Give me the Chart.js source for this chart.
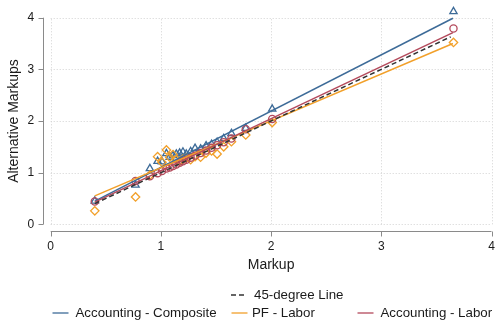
<!DOCTYPE html>
<html>
<head>
<meta charset="utf-8">
<script src="https://cdn.jsdelivr.net/npm/chart.js@4/dist/chart.umd.min.js"></script>
<style>
html,body{margin:0;padding:0;background:#fff;}
#wrap{position:relative;width:497px;height:321px;}
</style>
</head>
<body>
<div id="wrap"><canvas id="c" width="497" height="321"></canvas></div>
<script>
// ---- data ----
const markup      = [0.40,0.77,0.90,0.97,1.01,1.05,1.08,1.11,1.14,1.17,1.20,1.23,1.27,1.31,1.36,1.41,1.46,1.51,1.57,1.64,1.77,2.01,3.655];
const composite   = [0.45,0.76,1.08,1.22,1.21,1.37,1.30,1.33,1.36,1.38,1.40,1.36,1.41,1.47,1.46,1.52,1.55,1.59,1.66,1.76,1.86,2.23,4.12];
const pfLabor     = [0.26,0.53,0.95,1.31,1.20,1.44,1.30,1.35,1.25,1.22,1.26,1.28,1.25,1.31,1.30,1.38,1.42,1.36,1.50,1.60,1.73,1.97,3.52];
const accLabor    = [0.44,0.84,0.93,0.99,1.03,1.08,1.10,1.13,1.16,1.19,1.22,1.25,1.29,1.33,1.38,1.43,1.48,1.53,1.59,1.66,1.84,2.04,3.79];
// fitted line endpoints [x0,y0,x1,y1]
const fitComposite = [0.40,0.45,3.65,3.99];
const fitPF        = [0.40,0.55,3.65,3.50];
const fitLabor     = [0.40,0.43,3.65,3.71];
const line45       = [0.40,0.40,3.63,3.63];
const xTicks = [0,1,2,3,4];
const yTicks = [0,1,2,3,4];
const xTitle = "Markup";
const yTitle = "Alternative Markups";
const legendRow1 = ["45-degree Line"];
const legendRow2 = ["Accounting - Composite","PF - Labor","Accounting - Labor"];

const BLUE = "#3d6b98", ORANGE = "#f2a02a", RED = "#b44a5c", DARK = "#333333";
const FONT = "'Liberation Sans', Arial, Helvetica, sans-serif";
const Y_TOP = 4.2;   // headroom so the top marker is drawn

function pts(xs, ys){ return xs.map((x,i)=>({x:x,y:ys[i]})); }
function seg(a){ return [{x:a[0],y:a[1]},{x:a[2],y:a[3]}]; }

const datasets = [
  {type:'scatter', label:'cs', data:pts(markup,composite), pointStyle:'triangle', pointRadius:4.2,
   borderColor:BLUE, backgroundColor:'rgba(0,0,0,0)', pointBorderWidth:1.3, order:6, clip:false},
  {type:'scatter', label:'ps', data:pts(markup,pfLabor), pointStyle:'rectRot', pointRadius:4.2,
   borderColor:ORANGE, backgroundColor:'rgba(0,0,0,0)', pointBorderWidth:1.3, order:5, clip:false},
  {type:'scatter', label:'ls', data:pts(markup,accLabor), pointStyle:'circle', pointRadius:3.6,
   borderColor:RED, backgroundColor:'rgba(0,0,0,0)', pointBorderWidth:1.3, order:4, clip:false},
  {type:'line', label:legendRow2[0], data:seg(fitComposite), borderColor:BLUE, borderWidth:1.5, pointRadius:0, order:3, clip:false},
  {type:'line', label:legendRow2[1], data:seg(fitPF), borderColor:ORANGE, borderWidth:1.5, pointRadius:0, order:2, clip:false},
  {type:'line', label:legendRow2[2], data:seg(fitLabor), borderColor:RED, borderWidth:1.5, pointRadius:0, order:1, clip:false},
  {type:'line', label:legendRow1[0], data:seg(line45), borderColor:DARK, borderWidth:1.5, borderDash:[5,3], pointRadius:0, order:0, clip:false}
];

const gridPlugin = {
  id:'dotGrid',
  beforeDatasetsDraw(chart){
    const ctx = chart.ctx, xs = chart.scales.x, ys = chart.scales.y;
    const x0 = xs.getPixelForValue(xTicks[0]), x1 = xs.getPixelForValue(xTicks[xTicks.length-1]);
    const y0 = ys.getPixelForValue(yTicks[0]), y1 = ys.getPixelForValue(yTicks[yTicks.length-1]);
    ctx.save();
    ctx.strokeStyle = '#d2d2d2'; ctx.lineWidth = 1; ctx.setLineDash([1,2]);
    ctx.beginPath();
    yTicks.forEach(v=>{ const p = Math.round(ys.getPixelForValue(v))+0.5; ctx.moveTo(x0,p); ctx.lineTo(x1,p); });
    xTicks.forEach(v=>{ const p = Math.round(xs.getPixelForValue(v))+0.5; ctx.moveTo(p,y0); ctx.lineTo(p,y1); });
    ctx.stroke();
    ctx.restore();
  }
};

const axisPlugin = {
  id:'stataAxes',
  afterDraw(chart){
    const ctx = chart.ctx, xs = chart.scales.x, ys = chart.scales.y;
    ctx.save();
    ctx.strokeStyle = '#8a8a8a'; ctx.lineWidth = 1;
    // y axis line
    const ax = Math.round(chart.chartArea.left - 8) + 0.5;
    ctx.beginPath();
    ctx.moveTo(ax, ys.getPixelForValue(yTicks[0])); ctx.lineTo(ax, ys.getPixelForValue(yTicks[yTicks.length-1]));
    yTicks.forEach(v=>{ const p = Math.round(ys.getPixelForValue(v))+0.5; ctx.moveTo(ax,p); ctx.lineTo(ax-5,p); });
    ctx.stroke();
    // x axis line
    const ay = Math.round(chart.chartArea.bottom + 7) + 0.5;
    ctx.beginPath();
    ctx.moveTo(xs.getPixelForValue(xTicks[0]), ay); ctx.lineTo(xs.getPixelForValue(xTicks[xTicks.length-1]), ay);
    xTicks.forEach(v=>{ const p = Math.round(xs.getPixelForValue(v))+0.5; ctx.moveTo(p,ay); ctx.lineTo(p,ay+5); });
    ctx.stroke();

    // axis titles
    ctx.fillStyle = '#1a1a1a';
    ctx.font = '14px ' + FONT;
    ctx.textAlign = 'center'; ctx.textBaseline = 'middle';
    ctx.fillText(xTitle, (xs.getPixelForValue(xTicks[0])+xs.getPixelForValue(xTicks[xTicks.length-1]))/2, 265);
    ctx.save();
    ctx.translate(14, (ys.getPixelForValue(yTicks[0])+ys.getPixelForValue(yTicks[yTicks.length-1]))/2);
    ctx.rotate(-Math.PI/2);
    ctx.fillText(yTitle, 0, 0);
    ctx.restore();

    // legend
    ctx.font = '13.3px ' + FONT;
    ctx.textAlign = 'left';
    const drawSample = (x, y, color, dash) => {
      ctx.save(); ctx.strokeStyle = color; ctx.lineWidth = 1.3; ctx.setLineDash(dash||[]);
      ctx.beginPath(); ctx.moveTo(x, y); ctx.lineTo(x+16, y); ctx.stroke(); ctx.restore();
    };
    drawSample(231, 295, DARK, [5,3]);
    ctx.fillText(legendRow1[0], 254, 295);
    const cols = [[52.5, 75.5, BLUE],[231.5, 252, ORANGE],[357.5, 380.5, RED]];
    legendRow2.forEach((t,i)=>{ drawSample(cols[i][0], 313, cols[i][2]); ctx.fillText(t, cols[i][1], 313); });
    ctx.restore();
  }
};

const PX_PER_Y = (224.3-17.7)/4;
new Chart(document.getElementById('c'), {
  data:{datasets:datasets},
  options:{
    responsive:false, animation:false, devicePixelRatio:1,
    layout:{padding:{left:0,right:4.3,top:17.7-(Y_TOP-4)*PX_PER_Y,bottom:0}},
    plugins:{legend:{display:false}, tooltip:{enabled:false}},
    scales:{
      x:{type:'linear', min:0, max:4,
         afterFit(s){ s.height = 321-224.3; s.paddingLeft = 0; s.paddingRight = 0; },
         afterBuildTicks(s){ s.ticks = xTicks.map(v=>({value:v})); },
         border:{display:false},
         grid:{display:false, drawTicks:true, tickLength:15},
         ticks:{padding:0, color:'#1a1a1a', font:{family:FONT, size:12}, maxRotation:0}},
      y:{type:'linear', min:0, max:Y_TOP,
         afterFit(s){ s.width = 50.7; s.paddingTop = 0; s.paddingBottom = 0; },
         afterBuildTicks(s){ s.ticks = yTicks.map(v=>({value:v})); },
         border:{display:false},
         grid:{display:false, drawTicks:true, tickLength:16.5},
         ticks:{padding:0, color:'#1a1a1a', font:{family:FONT, size:12}}}
    }
  },
  plugins:[gridPlugin, axisPlugin]
});
</script>
</body>
</html>
